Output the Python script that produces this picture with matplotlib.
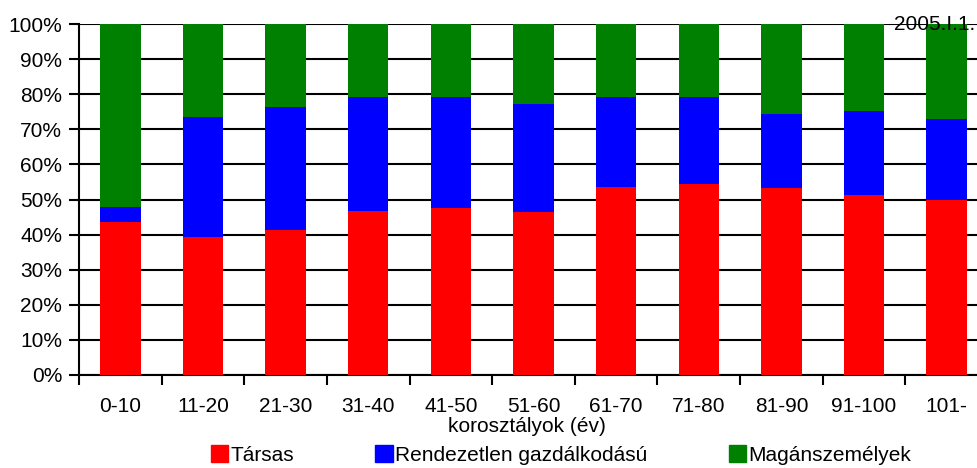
import numpy as np
import matplotlib.pyplot as plt
from matplotlib.patches import Patch
from matplotlib.ticker import PercentFormatter

plt.rcParams['font.family'] = ['Liberation Sans', 'DejaVu Sans']

categories = ['0-10', '11-20', '21-30', '31-40', '41-50', '51-60',
              '61-70', '71-80', '81-90', '91-100', '101-']
tarsas = [43.5, 39.3, 41.3, 46.8, 47.5, 46.4, 53.5, 54.4, 53.3, 51.3, 49.9]
rendezetlen_top = [47.9, 73.5, 76.4, 79.3, 79.3, 77.2, 79.3, 79.2, 74.4, 75.2, 72.9]
rendezetlen = [t - r for t, r in zip(rendezetlen_top, tarsas)]
magan = [100 - t for t in rendezetlen_top]

series_names = ['Társas', 'Rendezetlen gazdálkodású', 'Magánszemélyek']
colors = ['#ff0000', '#0000ff', '#008000']

fs = 15

fig = plt.figure(figsize=(9.78, 4.68), dpi=100)
ax = fig.add_axes([79 / 978, 1 - 375 / 468, 909 / 978, 351 / 468])

x = np.arange(len(categories))
w = 0.49
bottom = np.zeros(len(categories))
for vals, c in zip([tarsas, rendezetlen, magan], colors):
    ax.bar(x, vals, w, bottom=bottom, color=c, zorder=3)
    bottom += np.array(vals)

ax.set_ylim(0, 100)
ax.set_xlim(-0.5, len(categories) - 0.5)
ax.set_yticks(np.arange(0, 101, 10))
ax.yaxis.set_major_formatter(PercentFormatter(decimals=0))
ax.yaxis.grid(True, color='black', linewidth=1.5, zorder=0)
ax.set_axisbelow(True)

ax.set_xticks(x)
ax.set_xticklabels(categories)
ax.set_xticks(np.arange(-0.5, len(categories) - 0.4, 1), minor=True)
ax.tick_params(axis='x', which='major', length=0, pad=16, labelsize=fs)
ax.tick_params(axis='x', which='minor', length=7, width=1.5, color='black')
ax.tick_params(axis='y', length=7, width=1.5, pad=5, labelsize=fs)

for s in ['top', 'right']:
    ax.spines[s].set_visible(False)
for s in ['left', 'bottom']:
    ax.spines[s].set_linewidth(1.5)
    ax.spines[s].set_color('black')

ax.set_xlabel('korosztályok (év)', fontsize=fs)
ax.xaxis.set_label_coords(448 / 909, -0.12)

fig.text(975 / 978, 1 - 25 / 468, '2005.I.1.', ha='right', va='center', fontsize=fs)

handles = [Patch(facecolor=c, edgecolor=c) for c in colors]
fig.legend(handles, series_names, loc='center', bbox_to_anchor=(561 / 978, 1 - 455 / 468),
           ncol=3, frameon=False, fontsize=fs, handlelength=0.85, handleheight=0.85,
           handletextpad=0.1, columnspacing=3.9, borderpad=0, borderaxespad=0)

fig.savefig('out.png', dpi=100)
